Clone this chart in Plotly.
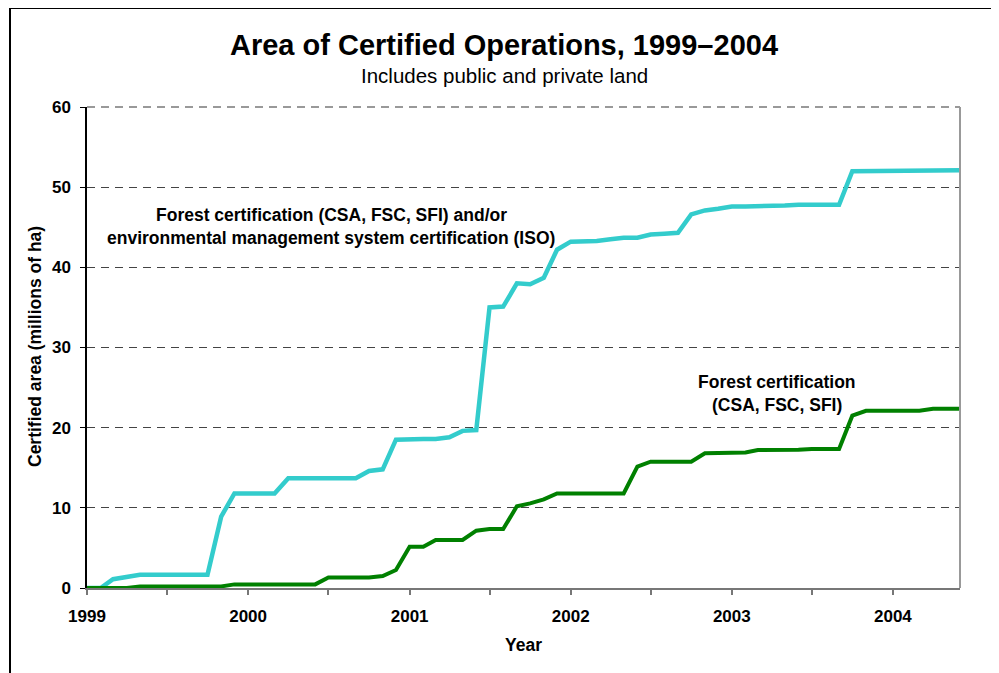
import pandas as pd
import plotly.graph_objects as go

# Monthly observations, Jan 1999 .. Jun 2004
months = pd.date_range("1999-01-01", periods=66, freq="MS")

forest_or_iso = [
    0, 0, 1.1, 1.4, 1.65, 1.65, 1.65, 1.65, 1.65, 1.65,
    8.9, 11.8, 11.8, 11.8, 11.8, 13.7, 13.7, 13.7, 13.7, 13.7,
    13.7, 14.6, 14.8, 18.5, 18.6, 18.6, 18.6, 18.8, 19.6, 19.7,
    35.0, 35.1, 38.0, 37.9, 38.7, 42.2, 43.2, 43.2, 43.3, 43.5,
    43.7, 43.7, 44.1, 44.2, 44.3, 46.6, 47.1, 47.3, 47.6, 47.6,
    47.6, 47.65, 47.7, 47.8, 47.8, 47.8, 47.8, 52.0, 52.0, 52.0,
    52.0, 52.0, 52.0, 52.1, 52.1, 52.1,
]

forest_only = [
    0, 0, 0, 0, 0.2, 0.2, 0.2, 0.2, 0.2, 0.2,
    0.2, 0.45, 0.45, 0.45, 0.45, 0.45, 0.45, 0.45, 1.3, 1.3,
    1.3, 1.3, 1.5, 2.25, 5.15, 5.15, 6.0, 6.0, 6.0, 7.15,
    7.35, 7.35, 10.2, 10.55, 11.05, 11.8, 11.8, 11.8, 11.8, 11.8,
    11.8, 15.15, 15.75, 15.75, 15.75, 15.75, 16.8, 16.8, 16.8, 16.9,
    17.2, 17.2, 17.25, 17.25, 17.35, 17.35, 17.35, 21.5, 22.1, 22.1,
    22.1, 22.1, 22.1, 22.35, 22.35, 22.35,
]

tick_dates = ["1999-01-01", "1999-07-01", "2000-01-01", "2000-07-01", "2001-01-01",
              "2001-07-01", "2002-01-01", "2002-07-01", "2003-01-01", "2003-07-01",
              "2004-01-01"]
tick_labels = ["1999", "", "2000", "", "2001", "", "2002", "", "2003", "", "2004"]

FONT = "Liberation Sans, Arial, sans-serif"

fig = go.Figure()
fig.add_trace(go.Scatter(x=months, y=forest_or_iso, mode="lines",
                         line=dict(color="#33CCCC", width=4.5),
                         name="Forest certification and/or ISO"))
fig.add_trace(go.Scatter(x=months, y=forest_only, mode="lines",
                         line=dict(color="#008000", width=4),
                         name="Forest certification"))

# page body has an 8px margin; work in page coordinates and shift
OFF = 8
W, H = 999 - OFF, 673 - OFF
L, R, T, B = 87 - OFF, 960 - OFF, 107 - OFF, 588 - OFF


def px(x):
    return (x - OFF - L) / (R - L)


def py(y):
    return (B - (y - OFF)) / (B - T)


fig.update_layout(
    width=W, height=H,
    margin=dict(l=L, r=W - R, t=T, b=H - B),
    plot_bgcolor="white", paper_bgcolor="white",
    showlegend=False,
    font=dict(family=FONT, color="black"),
    xaxis=dict(
        type="date", range=["1999-01-01", "2004-06-01"],
        tickmode="array", tickvals=tick_dates, ticktext=tick_labels,
        ticks="outside", ticklen=5, tickcolor="#777777", tickwidth=1.5,
        ticklabelstandoff=7,
        showgrid=False, showline=True, linecolor="#777777", linewidth=2,
        zeroline=False,
        tickfont=dict(family=FONT, size=17, color="black", weight="bold"),
    ),
    yaxis=dict(
        range=[0, 60], dtick=10, tick0=0,
        ticks="outside", ticklen=5, tickcolor="black", tickwidth=1,
        ticklabelstandoff=6,
        showgrid=True, gridcolor="#444444", gridwidth=1, griddash="8px,6px",
        showline=True, linecolor="black", linewidth=1.5,
        zeroline=False,
        tickfont=dict(family=FONT, size=17, color="black", weight="bold"),
    ),
    shapes=[
        dict(type="line", xref="paper", yref="paper", x0=1, x1=1, y0=0, y1=1,
             line=dict(color="#999999", width=2), layer="above"),
        dict(type="line", xref="paper", yref="paper", x0=0, x1=1, y0=1, y1=1,
             line=dict(color="#999999", width=2, dash="8px,6px"), layer="above"),
        dict(type="rect", xref="paper", yref="paper",
             x0=px(10), x1=px(994), y0=py(690), y1=py(8),
             line=dict(color="black", width=2), layer="above"),
    ],
    annotations=[
        dict(text="<b>Area of Certified Operations, 1999\u20132004</b>",
             xref="paper", yref="paper", x=px(504), y=py(45),
             xanchor="center", yanchor="middle", showarrow=False,
             font=dict(size=29, family=FONT, color="black")),
        dict(text="Includes public and private land",
             xref="paper", yref="paper", x=px(504), y=py(75),
             xanchor="center", yanchor="middle", showarrow=False,
             font=dict(size=20.5, family=FONT, color="black")),
        dict(text="<b>Forest certification (CSA, FSC, SFI) and/or</b>",
             xref="paper", yref="paper", x=px(331), y=py(215),
             xanchor="center", yanchor="middle", showarrow=False,
             font=dict(size=17.5, family=FONT, color="black")),
        dict(text="<b>environmental management system certification (ISO)</b>",
             xref="paper", yref="paper", x=px(331), y=py(238),
             xanchor="center", yanchor="middle", showarrow=False,
             font=dict(size=17.5, family=FONT, color="black")),
        dict(text="<b>Forest certification</b>",
             xref="paper", yref="paper", x=px(777), y=py(382),
             xanchor="center", yanchor="middle", showarrow=False,
             font=dict(size=17.5, family=FONT, color="black")),
        dict(text="<b>(CSA, FSC, SFI)</b>",
             xref="paper", yref="paper", x=px(777), y=py(405),
             xanchor="center", yanchor="middle", showarrow=False,
             font=dict(size=17.5, family=FONT, color="black")),
        dict(text="<b>Certified area (millions of ha)</b>",
             xref="paper", yref="paper", x=px(35), y=py(347),
             xanchor="center", yanchor="middle", showarrow=False, textangle=-90,
             font=dict(size=17.5, family=FONT, color="black")),
        dict(text="<b>Year</b>",
             xref="paper", yref="paper", x=px(523), y=py(645),
             xanchor="center", yanchor="middle", showarrow=False,
             font=dict(size=17.5, family=FONT, color="black")),
    ],
)

fig.write_html("out.html")
